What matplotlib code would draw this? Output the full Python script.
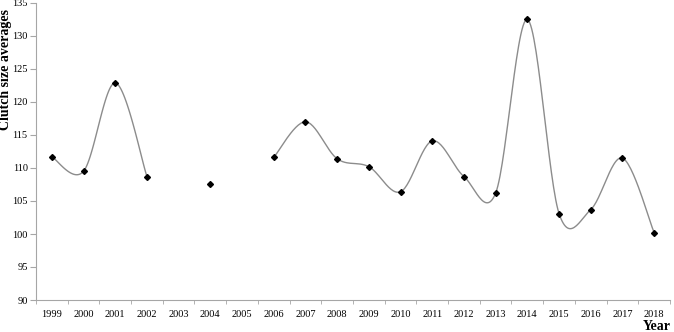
import matplotlib.pyplot as plt
import numpy as np

years = [str(y) for y in range(1999, 2019)]
# mean clutch size per year (None = no data)
clutch = [111.7, 109.5, 122.9, 108.7, None, 107.5, None, 111.6, 117.0, 111.4,
          110.2, 106.4, 114.1, 108.7, 106.2, 132.5, 103.1, 103.7, 111.5, 100.2]


def smooth(xs, ys, n=30):
    # Catmull-Rom style curve like the spreadsheet "smoothed line"
    xs = np.asarray(xs, float)
    ys = np.asarray(ys, float)
    px = np.concatenate(([xs[0]], xs, [xs[-1]]))
    py = np.concatenate(([ys[0]], ys, [ys[-1]]))
    outx, outy = [], []
    t = np.linspace(0, 1, n)
    for i in range(1, len(px) - 2):
        for p, out in ((px, outx), (py, outy)):
            p0, p1, p2, p3 = p[i - 1], p[i], p[i + 1], p[i + 2]
            c1 = p1 + (p2 - p0) / 6
            c2 = p2 - (p3 - p1) / 6
            out.extend((1 - t) ** 3 * p1 + 3 * (1 - t) ** 2 * t * c1
                       + 3 * (1 - t) * t ** 2 * c2 + t ** 3 * p2)
    return outx, outy


plt.rcParams['font.family'] = 'Liberation Serif'
fig = plt.figure(figsize=(6.74, 3.32), dpi=100)
ax = fig.add_axes([36 / 674, 1 - 300 / 332, 634 / 674, 297 / 332])

# split into runs of consecutive values
runs, cur = [], []
for i, v in enumerate(clutch):
    if v is None:
        if cur:
            runs.append(cur)
        cur = []
    else:
        cur.append(i)
if cur:
    runs.append(cur)

for r in runs:
    if len(r) > 1:
        sx, sy = smooth(r, [clutch[i] for i in r])
        ax.plot(sx, sy, color='#8c8c8c', lw=1.0, zorder=2)

idx = [i for i, v in enumerate(clutch) if v is not None]
ax.plot(idx, [clutch[i] for i in idx], ls='none', marker='D', ms=3,
        color='black', zorder=3)

ax.set_xlim(-0.5, 19.5)
ax.set_ylim(90, 135)
ax.set_yticks(range(90, 136, 5))
ax.set_xticks(range(20))
ax.set_xticklabels(years)
ax.set_xticks(np.arange(-0.5, 20, 1), minor=True)
ax.tick_params(axis='x', which='major', length=0, pad=7, labelsize=7.5)
ax.tick_params(axis='x', which='minor', length=3, color='#a6a6a6')
ax.tick_params(axis='y', length=4, color='#a6a6a6', labelsize=7.5, pad=2)
for s in ['top', 'right']:
    ax.spines[s].set_visible(False)
for s in ['left', 'bottom']:
    ax.spines[s].set_color('#a6a6a6')

fig.text(6 / 674, 1 - 70 / 332, 'Clutch size averages', rotation=90,
         ha='center', va='center', fontsize=10, fontweight='bold')
fig.text(657 / 674, 1 - 326 / 332, 'Year', ha='center', va='center',
         fontsize=10, fontweight='bold')

fig.savefig('out.png', dpi=100)
